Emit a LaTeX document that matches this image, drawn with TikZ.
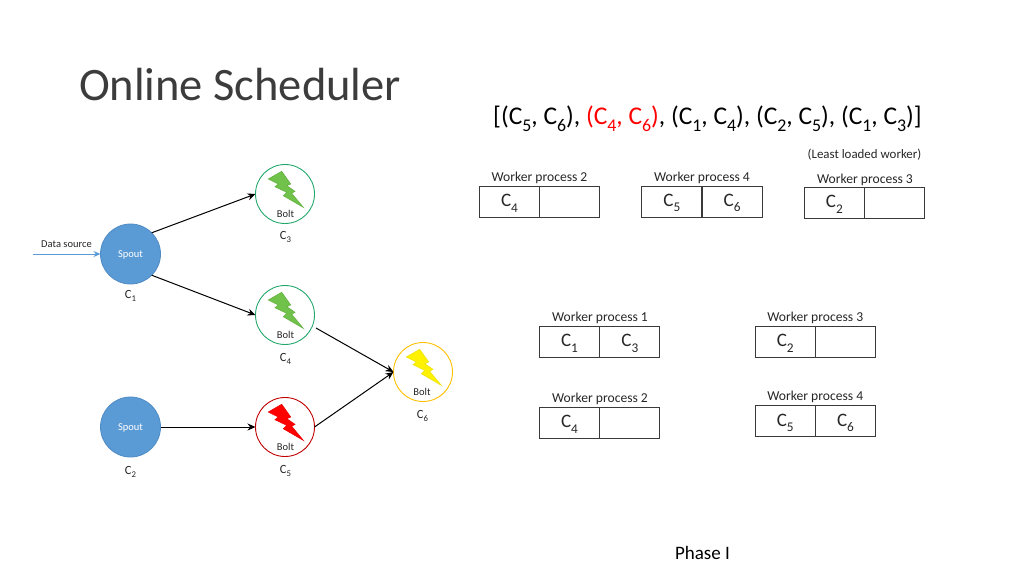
\documentclass[tikz,border=0pt]{standalone}
\usepackage{fontspec}
\setmainfont{Carlito}
\usetikzlibrary{arrows.meta}
\definecolor{ink}{HTML}{262626}
\definecolor{spoutblue}{HTML}{5B9BD5}
\definecolor{spoutedge}{HTML}{4F8BC4}
\definecolor{boltgreen}{HTML}{70C24A}
\definecolor{ringgreen}{HTML}{22A86B}
\definecolor{ringred}{HTML}{C00000}
\definecolor{ringyellow}{HTML}{FFC000}
\definecolor{boxedge}{HTML}{3A3A3A}
\newcommand\Csub[1]{C\raisebox{-.28em}{\scalebox{.7}{#1}}}
\tikzset{
  x=1pt,y=-1pt,
  txt/.style={inner sep=0pt,outer sep=0pt,text=ink},
  spout/.style={circle,minimum size=60pt,inner sep=0pt,outer sep=0pt,fill=spoutblue,draw=spoutedge,line width=.8pt},
  spoutlabel/.style={inner sep=0pt,outer sep=0pt,text=white,font=\fontsize{10.5}{12}\selectfont},
  boltring/.style={circle,minimum size=59pt,inner sep=0pt,outer sep=0pt,draw=#1,line width=.9pt},
  link/.style={draw=black,line width=1pt,-{Stealth[length=8pt,width=7pt]}},
  small/.style={txt,font=\fontsize{10.5}{12}\selectfont},
  clabel/.style={txt,font=\fontsize{12.5}{14}\selectfont},
  wlabel/.style={txt,font=\fontsize{13.6}{15}\selectfont},
  cell/.style={draw=boxedge,line width=1pt,minimum width=60.3pt,minimum height=31pt,inner sep=0pt,outer sep=0pt,text=ink,font=\fontsize{19}{21}\selectfont,text height=12pt,text depth=2pt},
  bolt/.pic={
    \draw[fill=#1,draw=#1!92!black,line width=.6pt,line join=miter]
      (-16.7,-15)--(-3.3,-22.7)--(5.7,-10)--(1.7,-8.3)--(10,-2.7)--(6.7,-.7)--(18.3,13.3)--(-1.7,1.7)--(1.7,-1.7)--(-10,-7.3)--(-6.7,-10)--cycle;
  }
}
\begin{document}
\begin{tikzpicture}
\useasboundingbox (0,0) rectangle (1024,576);
\node[txt,text=ink!90,anchor=base west,font=\fontsize{46.5}{50}\selectfont] (title) at (79,100) {Online Scheduler};
\node[txt,anchor=base,text=black,font=\fontsize{25.5}{29}\selectfont] (seq) at (707.5,124.5) {[(\Csub{5}, \Csub{6}), \textcolor{red}{(\Csub{4}, \Csub{6})}, (\Csub{1}, \Csub{4}), (\Csub{2}, \Csub{5}), (\Csub{1}, \Csub{3})]};
\node[small,font=\fontsize{12.9}{15}\selectfont] (least) at (864.5,154.5) {(Least loaded worker)};
\node[txt,anchor=base,text=black,font=\fontsize{19}{21}\selectfont] (phase) at (702.5,559) {Phase I};
% graph nodes
\node[spout] (s1) at (130.5,254) {};
\node[spout] (s2) at (130.5,427) {};
\node[spoutlabel] (t1) at (130.5,255) {Spout};
\node[spoutlabel] (t2) at (130.5,428) {Spout};
\node[boltring=ringgreen] (c3) at (285,194) {};
\node[boltring=ringgreen] (c4) at (285,315) {};
\node[boltring=ringred] (c5) at (285,427) {};
\node[boltring=ringyellow] (c6) at (423,372) {};
\pic at (c3) {bolt=boltgreen};
\pic at (c4) {bolt=boltgreen};
\pic at (c5) {bolt=red};
\pic at (c6) {bolt=yellow};
\node[small] (b3) at (285.5,214) {Bolt};
\node[small] (b4) at (285.5,335) {Bolt};
\node[small] (b5) at (285.5,447) {Bolt};
\node[small] (b6) at (422,392) {Bolt};
\node[clabel] (l3) at (285.5,237) {\Csub{3}};
\node[clabel] (l4) at (285.5,359) {\Csub{4}};
\node[clabel] (l5) at (285.5,471) {\Csub{5}};
\node[clabel] (l6) at (422.5,416) {\Csub{6}};
\node[clabel] (l1) at (130.5,296) {\Csub{1}};
\node[clabel] (l2) at (130.5,472) {\Csub{2}};
\node[small] (ds) at (66.5,244.5) {Data source};
\coordinate (dsin) at (33,254);
\coordinate (c4out) at (316,328);
\draw[draw=spoutblue,line width=1pt,-{Stealth[length=7pt,width=6pt]}] (dsin) -- (s1.west);
\draw[link] (s1.45) -- (c3.west);
\draw[link] (s1.-45) -- (c4.west);
\draw[link] (s2.east) -- (c5.west);
\draw[link] (c4out) -- (c6.west);
\draw[link] (c5.east) -- (c6.west);
% top row of workers
\node[wlabel] (wa) at (539.5,177.5) {Worker process 2};
\node[cell] (wa1) at (509.5,201.8) {\Csub{4}};
\node[cell] (wa2) at (569.8,201.8) {};
\node[wlabel] (wb) at (702,177.5) {Worker process 4};
\node[cell] (wb1) at (671.9,201.5) {\Csub{5}};
\node[cell] (wb2) at (732.1,201.5) {\Csub{6}};
\node[wlabel] (wc) at (865,179.5) {Worker process 3};
\node[cell] (wc1) at (834.4,202.8) {\Csub{2}};
\node[cell] (wc2) at (894.6,202.8) {};
% lower workers
\node[wlabel] (wd) at (600,318) {Worker process 1};
\node[cell] (wd1) at (569.5,341.8) {\Csub{1}};
\node[cell] (wd2) at (629.8,341.8) {\Csub{3}};
\node[wlabel] (we) at (815.3,318) {Worker process 3};
\node[cell] (we1) at (785.2,341.8) {\Csub{2}};
\node[cell] (we2) at (845.5,341.8) {};
\node[wlabel] (wf) at (600,398.5) {Worker process 2};
\node[cell] (wf1) at (569.5,422.8) {\Csub{4}};
\node[cell] (wf2) at (629.8,422.8) {};
\node[wlabel] (wg) at (815.3,397) {Worker process 4};
\node[cell] (wg1) at (785.2,421.2) {\Csub{5}};
\node[cell] (wg2) at (845.5,421.2) {\Csub{6}};
\end{tikzpicture}
\end{document}
